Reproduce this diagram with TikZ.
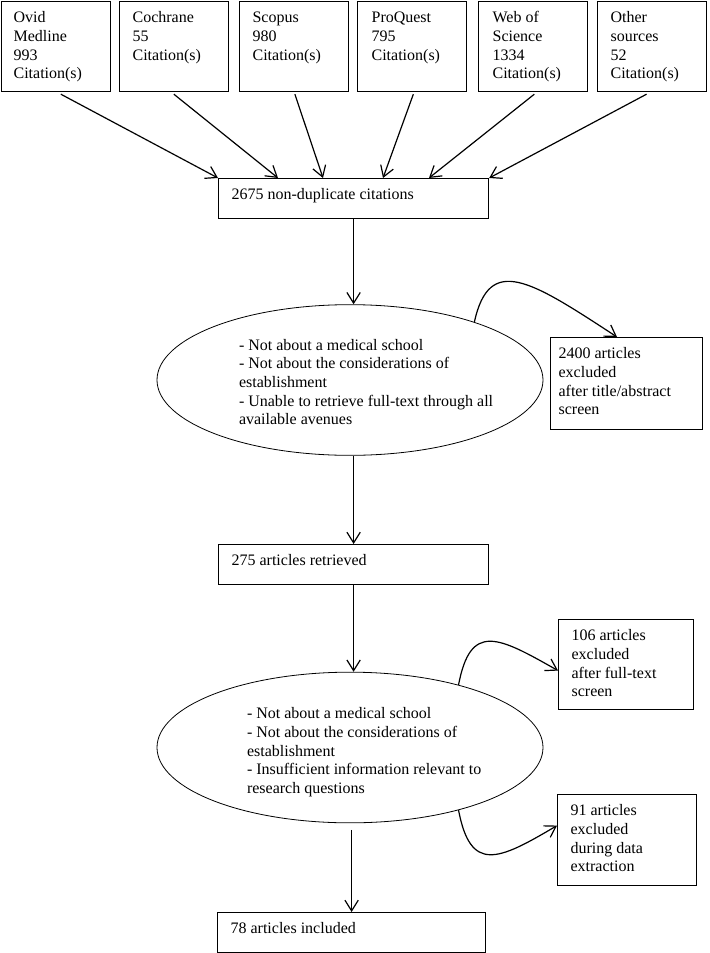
\documentclass[tikz,border=0pt]{standalone}
\usepackage{fontspec}
\setmainfont{Liberation Serif}
\usetikzlibrary{arrows.meta,shapes.geometric}
\newcommand{\boxtxt}[4]{\parbox[c][#2][t]{#1}{\vspace*{6pt}\raggedright\leftskip=#3\relax\strut #4}}
\begin{document}
\begin{tikzpicture}[x=0.75pt,y=-0.75pt,
  txt/.style={font=\fontsize{12}{14}\selectfont, inner sep=0pt},
  boxn/.style={txt, draw, line width=0.9pt, anchor=north west},
  ell/.style={txt, draw, ellipse, line width=0.6pt, minimum width=289.5pt, minimum height=113pt},
  arr/.style={line width=0.9pt, -{Straight Barb[length=8pt,width=10pt]}}]
\useasboundingbox (0,0) rectangle (710,953);

% source boxes
\node[boxn] (s1) at (1,1) {\boxtxt{81.4pt}{67.5pt}{9pt}{Ovid\\Medline\\993\\Citation(s)}};
\node[boxn] (s2) at (119,1) {\boxtxt{81.4pt}{67.5pt}{9.75pt}{Cochrane\\55\\Citation(s)}};
\node[boxn] (s3) at (239,1) {\boxtxt{81.4pt}{67.5pt}{9.75pt}{Scopus\\980\\Citation(s)}};
\node[boxn] (s4) at (357,1) {\boxtxt{81.4pt}{67.5pt}{10.5pt}{ProQuest\\795\\Citation(s)}};
\node[boxn] (s5) at (478,1) {\boxtxt{81.4pt}{67.5pt}{10.5pt}{Web of\\Science\\1334\\Citation(s)}};
\node[boxn] (s6) at (597,1) {\boxtxt{81.4pt}{67.5pt}{9.75pt}{Other\\sources\\52\\Citation(s)}};

% main column
\node[boxn] (m1) at (218,178) {\boxtxt{202.5pt}{30pt}{9.75pt}{2675 non-duplicate citations}};
\node[ell] (e1) at (350,380) {\makebox[0pt]{\hspace*{28.5pt}\parbox{195pt}{\vspace*{5.4pt}\raggedright\strut - Not about a medical school\\- Not about the considerations of\\establishment\\- Unable to retrieve full-text through all\\available avenues\strut}}};
\node[boxn] (m2) at (218,544) {\boxtxt{202.5pt}{30pt}{9.75pt}{275 articles retrieved}};
\node[ell] (e2) at (350,747.5) {\makebox[0pt]{\hspace*{25.5pt}\parbox{180pt}{\vspace*{7.2pt}\raggedright\strut - Not about a medical school\\- Not about the considerations of\\establishment\\- Insufficient information relevant to\\research questions\strut}}};
\node[boxn] (m3) at (217,912) {\boxtxt{201pt}{30pt}{9.75pt}{78 articles included}};

% exclusion boxes
\node[boxn] (x1) at (550,337) {\boxtxt{114pt}{69pt}{6pt}{2400 articles\\excluded\\after title/abstract\\screen}};
\node[boxn] (x2) at (558,619) {\boxtxt{101.25pt}{67.5pt}{9.75pt}{106 articles\\excluded\\after full-text\\screen}};
\node[boxn] (x3) at (557,794) {\boxtxt{104.25pt}{68.25pt}{9.75pt}{91 articles\\excluded\\during data\\extraction}};

% source arrows
\draw[arr] ([xshift=3.75pt,yshift=-1.5pt]s1.south) -- (m1.north west);
\draw[arr] ([yshift=-1.5pt]s2.south) -- ([xshift=45pt]m1.north west);
\draw[arr] ([xshift=0.75pt,yshift=-1.5pt]s3.south) -- ([xshift=78.75pt]m1.north west);
\draw[arr] ([xshift=1.1pt,yshift=-1.5pt]s4.south) -- ([xshift=123.75pt]m1.north west);
\draw[arr] ([xshift=1.1pt,yshift=-1.5pt]s5.south) -- ([xshift=158.25pt]m1.north west);
\draw[arr] ([xshift=-4pt,yshift=-1.5pt]s6.south) -- (m1.north east);

% vertical flow
\draw[arr] (m1.south) -- (m1.south |- e1.north);
\draw[arr] (m2.north |- e1.south) -- (m2.north);
\draw[arr] (m2.south) -- (m2.south |- e2.north);
\coordinate (e2b) at ([yshift=-5pt]e2.south);
\draw[arr] (e2b -| m3.north) -- (m3.north);

% exclusion arrows
\draw[arr] (e1.25) .. controls +(15,-68) and +(-87,-57) .. ([xshift=50.25pt]x1.north west);
\draw[arr] (e2.30) .. controls +(12,-63) and +(-60,-34) .. ([yshift=-4.5pt]x2.west);
\draw[arr] (e2.-30) .. controls +(12,63) and +(-59,35) .. ([yshift=10.9pt]x3.west);
\end{tikzpicture}
\end{document}
